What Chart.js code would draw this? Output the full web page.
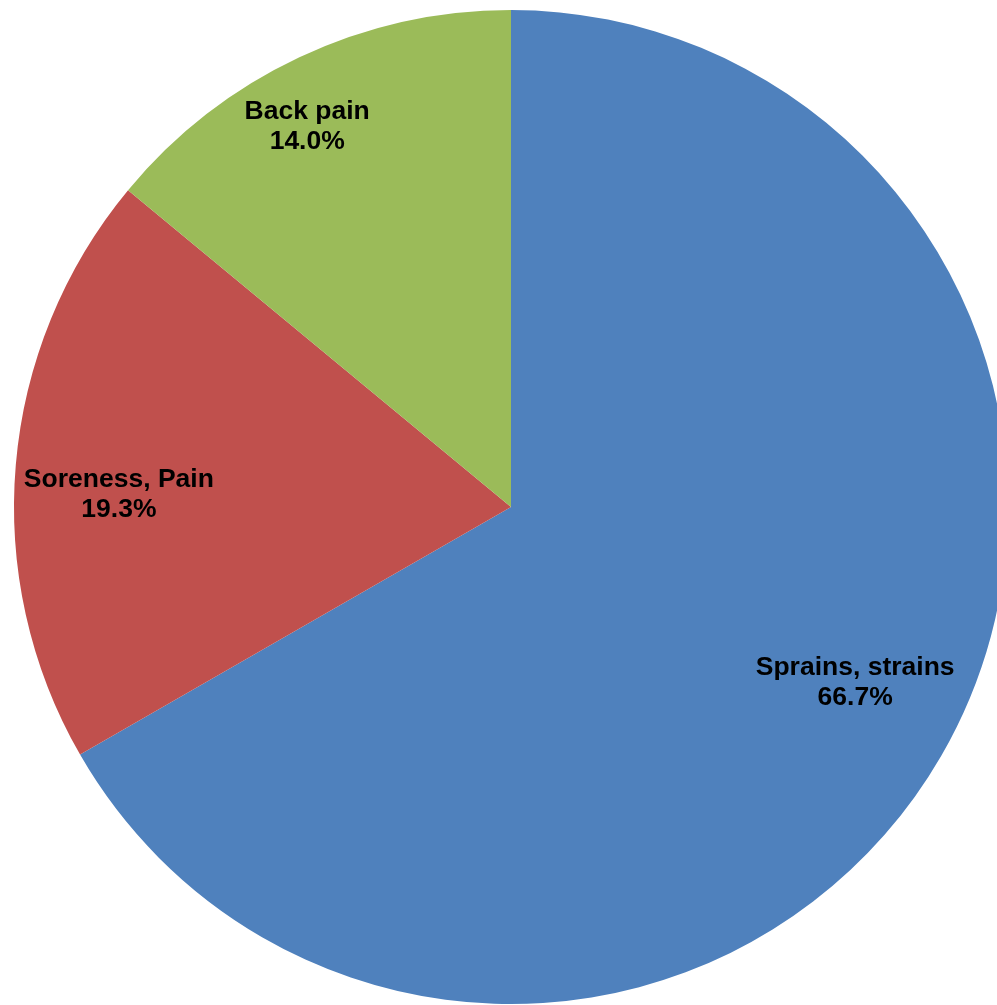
<!doctype html>
<html lang="en">
<head>
  <meta charset="utf-8">
  <title>Injury types</title>
  <style>
    html,body{
      width:100%;
      height:100%;
      margin:0;
      padding:0;overflow:hidden;
      background:#fff;
    }
    .chart-p{
      position:absolute;
      left:0;
      top:0;
      width:1022px;
      height:1014px;
    }
  </style>
</head>
<body>

  <div class='chart-p'>
    <canvas id="chart0" width="1022" height="1014"></canvas>
  </div>

  <script src='https://cdn.jsdelivr.net/npm/chart.js@4/dist/chart.umd.min.js'></script>
  <script>
    var labels = ['Sprains, strains', 'Soreness, Pain', 'Back pain'];
    var values = [66.7, 19.3, 14.0];
    var colors = ['#4F81BD', '#C0504D', '#9BBB59'];

    // labels drawn "inside end", like the spreadsheet does it
    var insideLabels = {
      id: 'insideLabels',
      afterDatasetsDraw: function(chart){
        var ctx = chart.ctx;
        var meta = chart.getDatasetMeta(0);
        ctx.save();
        ctx.font = 'bold 26.5px "Liberation Sans", Arial, sans-serif';
        ctx.fillStyle = '#000';
        ctx.textAlign = 'center';
        ctx.textBaseline = 'middle';
        var lineH = 30;
        var shift = -3 * Math.PI / 180; // excel sits labels a bit before the mid angle
        meta.data.forEach(function(arc, i){
          var lines = [labels[i], values[i].toFixed(1) + '%'];
          var w = Math.max.apply(null, lines.map(function(t){ return ctx.measureText(t).width; }));
          var h = lines.length * lineH;
          var mid = (arc.startAngle + arc.endAngle) / 2 + shift;
          var cx = Math.cos(mid), cy = Math.sin(mid);
          var limit = arc.outerRadius - 8;
          var lo = 0, hi = arc.outerRadius;
          for (var k = 0; k < 40; k++){
            var d = (lo + hi) / 2;
            var x = d * cx, y = d * cy;
            var far = Math.max(
              Math.hypot(x - w/2, y - h/2), Math.hypot(x + w/2, y - h/2),
              Math.hypot(x - w/2, y + h/2), Math.hypot(x + w/2, y + h/2));
            if (far > limit) hi = d; else lo = d;
          }
          var px = arc.x + lo * cx, py = arc.y + lo * cy;
          lines.forEach(function(t, j){
            ctx.fillText(t, px, py - h/2 + lineH/2 + j * lineH);
          });
        });
        ctx.restore();
      }
    };

    var ctx = document.getElementById('chart0').getContext('2d');
    var myChart = new Chart(ctx, {
      type: 'pie',
      data: {
        labels: labels,
        datasets: [{
          data: values,
          backgroundColor: colors,
          borderWidth: 0,
          radius: 497
        }]
      },
      options: {
        responsive: false,
        animation: false,
        layout: { padding: 0 },
        plugins: {
          legend: { display: false },
          tooltip: { enabled: false }
        }
      },
      plugins: [insideLabels]
    });
  </script>
</body>
</html>
